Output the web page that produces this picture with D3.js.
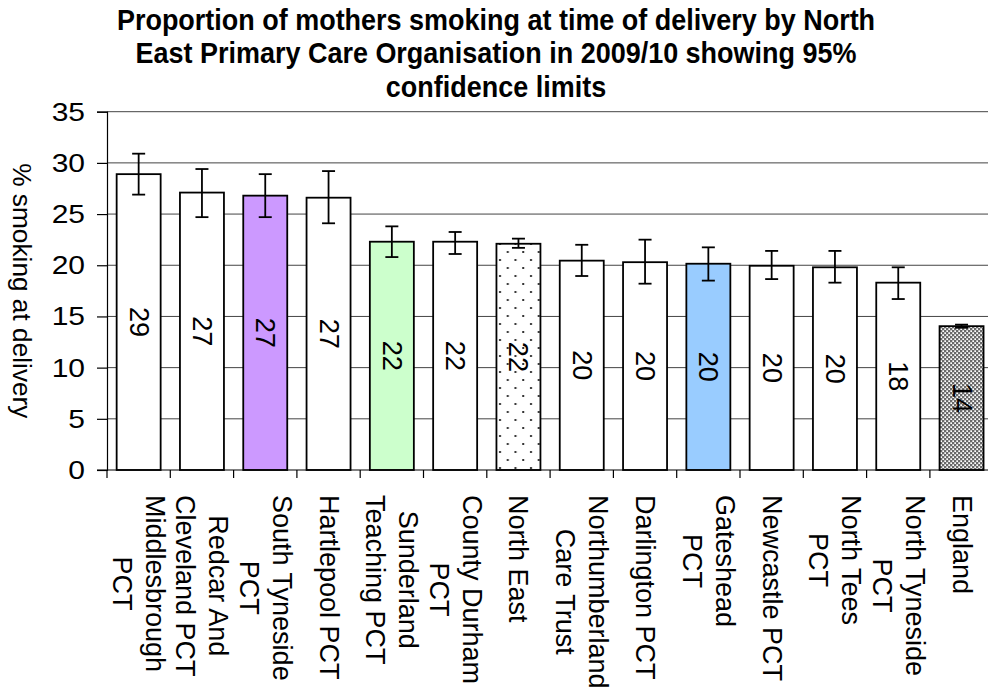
<!DOCTYPE html>
<html>
<head>
<meta charset="utf-8">
<script src="https://cdn.jsdelivr.net/npm/d3@7"></script>
<style>
  body { margin: 0; background: #fff; }
  svg { display: block; font-family: "Liberation Sans", Arial, sans-serif; }
</style>
</head>
<body>
<svg id="chart" width="988" height="690"></svg>
<script>
// chart data
var categories = [
  "Middlesbrough PCT", "Redcar And Cleveland PCT", "South Tyneside PCT", "Hartlepool PCT",
  "Sunderland Teaching PCT", "County Durham PCT", "North East", "Northumberland Care Trust",
  "Darlington PCT", "Gateshead PCT", "Newcastle PCT", "North Tees PCT", "North Tyneside PCT", "England"
];
// how each axis label wraps
var labelLines = [
  ["Middlesbrough", "PCT"], ["Redcar And", "Cleveland PCT"], ["South Tyneside", "PCT"], ["Hartlepool PCT"],
  ["Sunderland", "Teaching PCT"], ["County Durham", "PCT"], ["North East"], ["Northumberland", "Care Trust"],
  ["Darlington PCT"], ["Gateshead", "PCT"], ["Newcastle PCT"], ["North Tees", "PCT"], ["North Tyneside", "PCT"], ["England"]
];
var values = [28.9, 27.1, 26.8, 26.6, 22.3, 22.3, 22.1, 20.45, 20.3, 20.15, 19.95, 19.8, 18.3, 14.05];
var lowerCI = [26.9, 24.7, 24.7, 24.1, 20.8, 21.1, 21.7, 18.95, 18.2, 18.5, 18.65, 18.3, 16.7, 13.9];
var upperCI = [30.9, 29.4, 28.9, 29.2, 23.8, 23.25, 22.6, 22.0, 22.5, 21.75, 21.4, 21.4, 19.8, 14.2];
var yTicks = [0, 5, 10, 15, 20, 25, 30, 35];
var fillKind = ["white", "white", "purple", "white", "green", "white", "dots",
                "white", "white", "blue", "white", "white", "white", "hatch"];

var titleLines = [
  "Proportion of mothers smoking at time of delivery by North",
  "East Primary Care Organisation in 2009/10 showing 95%",
  "confidence limits"
];
var yTitle = "% smoking at delivery";

// plot area
var plotLeft = 107, plotTop = 111.7, plotBottom = 470, step = 63.3;
var svg = d3.select("#chart");

var fills = {
  white: "#ffffff",
  purple: "#cc99ff",
  green: "#ccffcc",
  blue: "#99ccff",
  dots: "url(#dots)",
  hatch: "url(#hatch)"
};

// patterns for North East and England
var defs = svg.append("defs");
var dots = defs.append("pattern").attr("id", "dots")
  .attr("patternUnits", "userSpaceOnUse").attr("width", 15.5).attr("height", 16);
dots.append("rect").attr("width", 15.5).attr("height", 16).attr("fill", "#fff");
dots.append("rect").attr("x", 3).attr("y", 3).attr("width", 2).attr("height", 2).attr("fill", "#333");
dots.append("rect").attr("x", 10.75).attr("y", 11).attr("width", 2).attr("height", 2).attr("fill", "#333");

var hatch = defs.append("pattern").attr("id", "hatch")
  .attr("patternUnits", "userSpaceOnUse").attr("width", 4).attr("height", 4);
hatch.append("rect").attr("width", 4).attr("height", 4).attr("fill", "#6a6a6a");
hatch.append("rect").attr("x", 0.3).attr("y", 0.3).attr("width", 1.7).attr("height", 1.7).attr("fill", "#fff");
hatch.append("rect").attr("x", 2.3).attr("y", 2.3).attr("width", 1.7).attr("height", 1.7).attr("fill", "#fff");

var x = d3.scaleBand()
  .domain(categories)
  .range([plotLeft, plotLeft + step * categories.length])
  .paddingInner(0.305)
  .paddingOuter(0.1525);

var y = d3.scaleLinear()
  .domain([0, 35])
  .range([plotBottom, plotTop]);

// gridlines
svg.append("g")
  .selectAll("line")
  .data(yTicks.slice(1))
  .enter()
  .append("line")
  .attr("x1", plotLeft).attr("x2", 988)
  .attr("y1", function(d){ return y(d); })
  .attr("y2", function(d){ return y(d); })
  .attr("stroke", "#444")
  .attr("stroke-width", 1);

// y axis
var yAxis = svg.append("g")
  .attr("transform", "translate(" + plotLeft + ",0)")
  .call(d3.axisLeft(y).tickValues(yTicks).tickSize(10).tickFormat(""));
yAxis.select(".domain").attr("stroke", "#000").attr("stroke-width", 1.2);
yAxis.selectAll(".tick line").attr("stroke", "#000").attr("stroke-width", 1.2);

// tick labels are drawn a little wider than normal in the original
svg.append("g")
  .selectAll("text")
  .data(yTicks)
  .enter()
  .append("text")
  .attr("transform", function(d){ return "translate(85," + y(d) + ") scale(1.2,1)"; })
  .attr("text-anchor", "end")
  .attr("dy", "0.36em")
  .attr("font-size", 25)
  .text(function(d){ return d; });

// bars
var bars = svg.append("g");
bars.selectAll("rect")
  .data(values)
  .enter()
  .append("rect")
  .attr("x", function(d, i){ return x(categories[i]); })
  .attr("width", x.bandwidth())
  .attr("y", function(d){ return y(d); })
  .attr("height", function(d){ return plotBottom - y(d); })
  .attr("fill", function(d, i){ return fills[fillKind[i]]; })
  .attr("stroke", "#000")
  .attr("stroke-width", 1.8);

// value labels, rotated, centred in each bar
bars.selectAll("text")
  .data(values)
  .enter()
  .append("text")
  .attr("transform", function(d, i){
      var cx = x(categories[i]) + x.bandwidth() / 2;
      var cy = (y(d) + plotBottom) / 2;
      return "translate(" + cx + "," + cy + ") rotate(90)";
  })
  .attr("text-anchor", "middle")
  .attr("dominant-baseline", "central")
  .attr("font-size", 27)
  .text(function(d){ return d3.format(".0f")(d); });

// error bars
var capHalf = 6.5;
var err = svg.append("g").attr("stroke", "#000").attr("stroke-width", 1.8);
categories.forEach(function(c, i){
  var cx = x(c) + x.bandwidth() / 2;
  err.append("line").attr("x1", cx).attr("x2", cx).attr("y1", y(lowerCI[i])).attr("y2", y(upperCI[i]));
  err.append("line").attr("x1", cx - capHalf).attr("x2", cx + capHalf).attr("y1", y(lowerCI[i])).attr("y2", y(lowerCI[i]));
  err.append("line").attr("x1", cx - capHalf).attr("x2", cx + capHalf).attr("y1", y(upperCI[i])).attr("y2", y(upperCI[i]));
});

// x axis, ticks at category boundaries
svg.append("line")
  .attr("x1", plotLeft - 10).attr("x2", 988)
  .attr("y1", plotBottom).attr("y2", plotBottom)
  .attr("stroke", "#000").attr("stroke-width", 1.2);
svg.append("g")
  .selectAll("line")
  .data(d3.range(categories.length + 1))
  .enter()
  .append("line")
  .attr("x1", function(i){ return plotLeft + i * x.step(); })
  .attr("x2", function(i){ return plotLeft + i * x.step(); })
  .attr("y1", plotBottom).attr("y2", plotBottom + 8)
  .attr("stroke", "#000").attr("stroke-width", 1.2);

// category labels: rotated, block top-aligned under the axis, lines centred
var labelTop = 495, lineGap = 33;
var labels = svg.append("g")
  .selectAll("text")
  .data(labelLines)
  .enter()
  .append("text")
  .attr("font-size", 27)
  .attr("text-anchor", "middle")
  .attr("dominant-baseline", "central");
labels.each(function(lines){
  var t = d3.select(this);
  lines.forEach(function(line, j){
    t.append("tspan")
      .attr("x", 0)
      .attr("y", (j - (lines.length - 1) / 2) * lineGap)
      .text(line);
  });
});
labels.attr("transform", function(lines, i){
  var longest = 0;
  d3.select(this).selectAll("tspan").each(function(){
    longest = Math.max(longest, this.getComputedTextLength());
  });
  var cx = x(categories[i]) + x.bandwidth() / 2;
  return "translate(" + cx + "," + (labelTop + longest / 2) + ") rotate(90)";
});

// y axis title
svg.append("text")
  .attr("transform", "translate(22," + ((plotTop + plotBottom) / 2) + ") rotate(90) scale(1.05,1)")
  .attr("text-anchor", "middle")
  .attr("dominant-baseline", "central")
  .attr("font-size", 25)
  .text(yTitle);

// title
svg.append("g")
  .selectAll("text")
  .data(titleLines)
  .enter()
  .append("text")
  .attr("transform", function(d, i){ return "translate(496," + (29.5 + i * 33.6) + ") scale(0.93,1)"; })
  .attr("text-anchor", "middle")
  .attr("font-size", 29)
  .attr("font-weight", "bold")
  .text(function(d){ return d; });
</script>
</body>
</html>
